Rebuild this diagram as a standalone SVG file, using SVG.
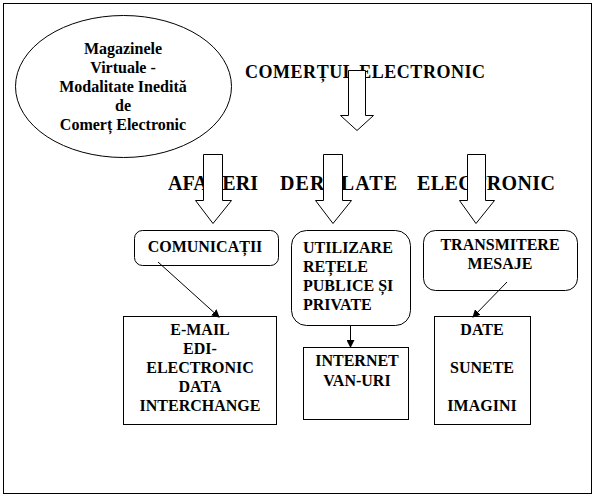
<svg xmlns="http://www.w3.org/2000/svg" width="594" height="498" viewBox="0 0 594 498">
<style>
.c{text-anchor:middle}
.box{fill:#fff;stroke:#000;stroke-width:1}
.blk{fill:#fff;stroke:#000;stroke-width:1}
.ln{stroke:#000;stroke-width:1;fill:none}
</style>
<defs>
<marker id="ah" markerWidth="8" markerHeight="8" refX="7" refY="4" orient="auto" markerUnits="userSpaceOnUse">
<path d="M0,0 L8,4 L0,8 Z" fill="#000"/>
</marker>
</defs>
<rect x="3.5" y="3.5" width="588" height="490" fill="#fff" stroke="#000"/>

<g font-family="Liberation Serif, DejaVu Serif, serif" font-weight="bold" font-size="16" fill="#000">
<g id="ellipse">
<ellipse class="box" cx="123.5" cy="86.5" rx="108" ry="71"/>
<text class="c" x="123" y="54">Magazinele</text>
<text class="c" x="123" y="73">Virtuale -</text>
<text class="c" x="123" y="92">Modalitate Inedită</text>
<text class="c" x="123" y="111">de</text>
<text class="c" x="123" y="130">Comerț Electronic</text>
</g>

<g id="title">
<text font-size="18" x="245" y="78" textLength="240" lengthAdjust="spacing">COMERȚUL ELECTRONIC</text>
</g>

<g id="subtitle" font-size="20">
<text x="168" y="190" textLength="90" lengthAdjust="spacing">AFACERI</text>
<text x="280" y="190" textLength="117" lengthAdjust="spacing">DERULATE</text>
<text x="417" y="190" textLength="138" lengthAdjust="spacing">ELECTRONIC</text>
</g>

<g id="arrows">
<path class="blk" d="M348.5,70.5 H365.5 V115.5 H373.5 L357,130.5 L340.5,115.5 H348.5 Z"/>
<path class="blk" d="M203.5,154.5 H222.5 V200.5 H231.5 L213,223.5 L195.5,200.5 H203.5 Z"/>
<path class="blk" d="M323.5,154.5 H342.5 V200.5 H351.5 L333,223.5 L315.5,200.5 H323.5 Z"/>
<path class="blk" d="M467.5,154.5 H485.5 V200.5 H494.5 L476,223.5 L459.5,200.5 H467.5 Z"/>
</g>

<g id="comunicatii">
<rect class="box" x="134.5" y="230.5" width="144" height="35" rx="8"/>
<text class="c" x="205" y="252">COMUNICAȚII</text>
</g>

<g id="utilizare">
<rect class="box" x="291.5" y="230.5" width="119" height="95" rx="15"/>
<text x="303" y="253">UTILIZARE</text>
<text x="303" y="272">REȚELE</text>
<text x="303" y="291">PUBLICE ȘI</text>
<text x="303" y="310">PRIVATE</text>
</g>

<g id="transmitere">
<rect class="box" x="423.5" y="230.5" width="154" height="60" rx="12"/>
<text class="c" x="500" y="250">TRANSMITERE</text>
<text class="c" x="500" y="269">MESAJE</text>
</g>

<g id="email">
<rect class="box" x="123.5" y="316.5" width="153" height="108"/>
<text class="c" x="200" y="335">E-MAIL</text>
<text class="c" x="200" y="354">EDI-</text>
<text class="c" x="200" y="373">ELECTRONIC</text>
<text class="c" x="200" y="392">DATA</text>
<text class="c" x="200" y="411">INTERCHANGE</text>
</g>

<g id="internet">
<rect class="box" x="303.5" y="347.5" width="105" height="72"/>
<text class="c" x="357" y="366">INTERNET</text>
<text class="c" x="357" y="386">VAN-URI</text>
</g>

<g id="date">
<rect class="box" x="434.5" y="316.5" width="96" height="108"/>
<text class="c" x="482" y="335">DATE</text>
<text class="c" x="482" y="373">SUNETE</text>
<text class="c" x="482" y="411">IMAGINI</text>
</g>
</g>

<g id="connectors">
<line class="ln" x1="158" y1="262" x2="219" y2="317" marker-end="url(#ah)"/>
<line class="ln" x1="350.5" y1="325" x2="350.5" y2="347" marker-end="url(#ah)"/>
<line class="ln" x1="507" y1="282" x2="473" y2="317" marker-end="url(#ah)"/>
</g>
</svg>
